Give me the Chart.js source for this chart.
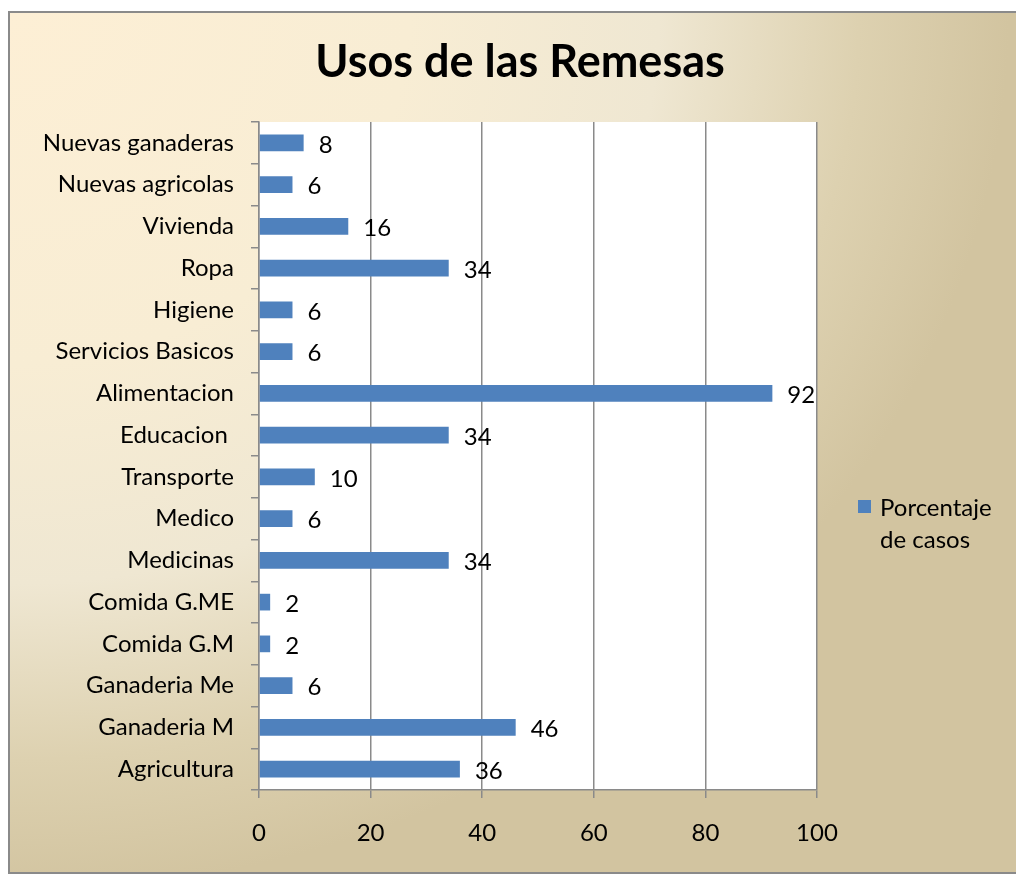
<!DOCTYPE html>
<html lang="es">
<head>
<meta charset="UTF-8">
<title>Usos de las Remesas</title>
<script src="https://cdn.jsdelivr.net/npm/chart.js"></script>
<style>
  body { margin: 0; background: #fff; }
</style>
</head>
<body>
<canvas id="grafico_remesas" width="1016" height="875"></canvas>
<script>
  // datos (de arriba hacia abajo)
  const categorias = ['Nuevas ganaderas', 'Nuevas agricolas', 'Vivienda', 'Ropa', 'Higiene',
    'Servicios Basicos', 'Alimentacion', 'Educacion ', 'Transporte', 'Medico', 'Medicinas',
    'Comida G.ME', 'Comida G.M', 'Ganaderia Me', 'Ganaderia M', 'Agricultura'];
  const porcentajes = [8, 6, 16, 34, 6, 6, 92, 34, 10, 6, 34, 2, 2, 6, 46, 36];
  const serieNombre = ['Porcentaje', 'de casos'];
  const ejeMin = 0, ejeMax = 100, ejePaso = 20;

  const fuente = 'Lato, "Open Sans", sans-serif';
  const gris = '#8a8a8a';
  const azul = '#4F81BD';

  // fondo degradado con marco
  const fondo = {
    id: 'fondo',
    beforeDraw(chart) {
      const ctx = chart.ctx;
      ctx.save();
      ctx.fillStyle = '#fff';
      ctx.fillRect(0, 0, chart.width, chart.height);
      ctx.beginPath();
      ctx.rect(9, 12, 1020, 861);
      ctx.clip();
      ctx.translate(9, 12);
      ctx.scale(1, 0.88);
      const g = ctx.createRadialGradient(0, 0, 0, 0, 0, 1000);
      g.addColorStop(0, '#FDEFD5');
      g.addColorStop(0.4, '#F8EDD4');
      g.addColorStop(0.65, '#EFE7D2');
      g.addColorStop(0.85, '#DDD1B0');
      g.addColorStop(1, '#D2C4A0');
      ctx.fillStyle = g;
      ctx.fillRect(0, 0, 1100, 1100);
      ctx.restore();
      // area del grafico en blanco
      const a = chart.chartArea;
      ctx.save();
      ctx.fillStyle = '#fff';
      ctx.fillRect(a.left, a.top, a.right - a.left, a.bottom - a.top);
      ctx.strokeStyle = gris;
      ctx.lineWidth = 2;
      ctx.strokeRect(9, 12, 1020, 861);
      ctx.restore();
    }
  };

  // etiquetas de valor a la derecha de cada barra
  const etiquetas = {
    id: 'etiquetas',
    afterDatasetsDraw(chart) {
      const ctx = chart.ctx;
      const meta = chart.getDatasetMeta(0);
      ctx.save();
      ctx.font = '24px ' + fuente;
      ctx.fillStyle = '#000';
      ctx.textAlign = 'left';
      ctx.textBaseline = 'middle';
      meta.data.forEach((barra, i) => {
        ctx.fillText(String(porcentajes[i]), barra.x + 15, barra.y + 2);
      });
      ctx.restore();
    }
  };

  // leyenda a la derecha, en dos lineas
  const leyenda = {
    id: 'leyenda',
    afterDraw(chart) {
      const ctx = chart.ctx;
      ctx.save();
      ctx.fillStyle = azul;
      ctx.fillRect(858, 500, 13, 13);
      ctx.font = '24px ' + fuente;
      ctx.fillStyle = '#000';
      ctx.textAlign = 'left';
      ctx.textBaseline = 'middle';
      ctx.fillText(serieNombre[0], 880, 508);
      ctx.fillText(serieNombre[1], 880, 540);
      ctx.restore();
    }
  };

  new Chart(document.getElementById('grafico_remesas'), {
    type: 'bar',
    data: {
      labels: categorias,
      datasets: [{
        label: serieNombre.join(' '),
        data: porcentajes,
        backgroundColor: azul,
        borderWidth: 0,
        barPercentage: 0.4,
        categoryPercentage: 1
      }]
    },
    options: {
      indexAxis: 'y',
      responsive: false,
      animation: false,
      layout: { padding: { left: 24, right: 0, top: 0, bottom: 0 } },
      plugins: {
        legend: { display: false },
        tooltip: { enabled: false },
        title: {
          display: true,
          text: 'Usos de las Remesas',
          color: '#000',
          font: { family: fuente, size: 45, weight: 'bold', lineHeight: 1.2 },
          padding: { top: 35, bottom: 33 }
        }
      },
      scales: {
        x: {
          min: ejeMin,
          max: ejeMax,
          ticks: { stepSize: ejePaso, color: '#000', padding: 21, font: { family: fuente, size: 24 } },
          grid: { color: gris, lineWidth: 1.5, tickLength: 8 },
          border: { color: gris, width: 1.5 },
          afterFit(eje) { eje.height = 85; }
        },
        y: {
          ticks: { color: '#000', padding: 17, font: { family: fuente, size: 24 } },
          grid: { color: gris, lineWidth: 1.5, tickLength: 8, drawOnChartArea: false, offset: true },
          border: { color: gris, width: 1.5 },
          afterFit(eje) { eje.width = 235; }
        },
        // espacio reservado a la derecha para la leyenda
        espacio: {
          type: 'linear',
          position: 'right',
          ticks: { display: false },
          grid: { display: false, drawTicks: false },
          border: { display: false },
          afterFit(eje) { eje.width = 199; }
        }
      }
    },
    plugins: [fondo, etiquetas, leyenda]
  });
</script>
</body>
</html>
